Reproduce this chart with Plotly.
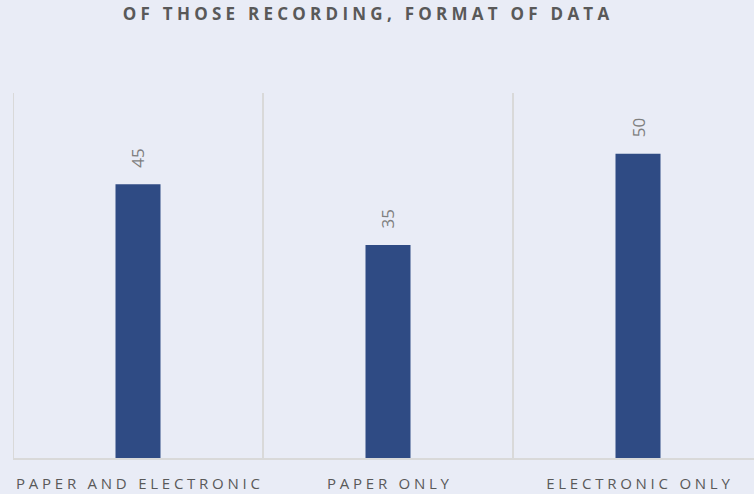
import plotly.graph_objects as go

# Data
categories = ["PAPER AND ELECTRONIC", "PAPER ONLY", "ELECTRONIC ONLY"]
values = [45, 35, 50]
title_text = "OF THOSE RECORDING, FORMAT OF DATA"

BG = "#E9ECF6"
BAR = "#2F4B84"
GRID = "#D9D9D9"
TEXT = "#595959"
VALUE_TEXT = "#7F7F7F"


def spaced(s, gap="\u2005"):
    """Widen tracking by placing a narrow space between characters."""
    return gap.join(list(s))


fig = go.Figure()
fig.add_trace(go.Bar(
    x=categories,
    y=values,
    marker=dict(color=BAR, line=dict(width=0)),
    width=0.18,
    hoverinfo="skip",
))

# Rotated value labels above each bar
for c, v in zip(categories, values):
    fig.add_annotation(
        x=c, y=v, text=str(v), textangle=-90,
        showarrow=False, xanchor="center", yanchor="bottom", yshift=14,
        font=dict(family="Open Sans", size=17, color=VALUE_TEXT),
    )

# Left-most category boundary line (edge gridline)
fig.add_shape(
    type="line", xref="x", yref="paper", x0=-0.5, x1=-0.5, y0=0, y1=1,
    line=dict(color=GRID, width=2), layer="below",
)

fig.update_layout(
    width=754, height=494,
    margin=dict(l=12.5, r=0, t=93, b=36, pad=0, autoexpand=False),
    paper_bgcolor=BG, plot_bgcolor=BG,
    showlegend=False,
    title=dict(
        text=spaced(title_text),
        x=366 / 754, xanchor="center",
        y=1 - 14 / 494, yanchor="middle",
        font=dict(family="Open Sans", size=17, color=TEXT, weight="bold"),
    ),
)

fig.update_xaxes(
    type="category",
    range=[-0.5, 2.464],
    tickson="boundaries",
    showgrid=True, gridcolor=GRID, gridwidth=2,
    showline=True, linecolor=GRID, linewidth=2,
    ticks="", ticklen=0,
    tickvals=categories,
    ticktext=[spaced(c) for c in categories],
    tickangle=0, automargin=False,
    tickfont=dict(family="Open Sans", size=15, color=TEXT),
    ticklabelstandoff=11,
    zeroline=False,
)
fig.update_yaxes(
    range=[0, 60],
    showgrid=False, zeroline=False, showline=False,
    showticklabels=False, ticks="",
)

fig.write_html("out.html")
